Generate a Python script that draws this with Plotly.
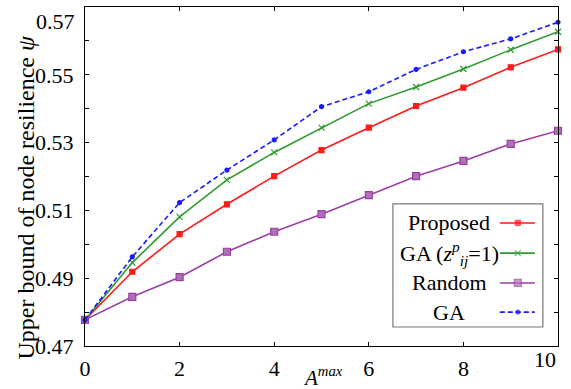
import plotly.graph_objects as go

a_max = [0, 1, 2, 3, 4, 5, 6, 7, 8, 9, 10]
proposed = [0.4777, 0.4919, 0.5030, 0.5118, 0.5201, 0.5278, 0.5344, 0.5408, 0.5462, 0.5522, 0.5575]
ga_z1 = [0.4777, 0.4946, 0.5081, 0.5190, 0.5271, 0.5344, 0.5415, 0.5464, 0.5517, 0.5574, 0.5627]
random_ = [0.4777, 0.4845, 0.4903, 0.4978, 0.5037, 0.5089, 0.5145, 0.5201, 0.5246, 0.5296, 0.5335]
ga = [0.4777, 0.4963, 0.5123, 0.5219, 0.5308, 0.5406, 0.5450, 0.5516, 0.5568, 0.5606, 0.5655]

legend_labels = ["Proposed", "GA (<i>z</i><sup><i>p</i></sup><sub><i>ij</i></sub>=1)", "Random", "GA"]
y_ticks = [0.47, 0.48, 0.49, 0.50, 0.51, 0.52, 0.53, 0.54, 0.55, 0.56, 0.57]
y_ticktext = ["0.47", "", "0.49", "", "0.51", "", "0.53", "", "0.55", "", ""]
x_ticks = [0, 2, 4, 6, 8, 10]
x_ticktext = ["0", "2", "4", "6", "8", ""]

FONT = "Liberation Serif"
RED = "#ff1a1a"
GREEN = "#2e9b2e"
PURPLE = "#9a3fa3"
BLUE = "#1a1aff"

styles = [
    dict(color=RED, dash="solid", symbol="square", size=5, mcolor=RED),
    dict(color=GREEN, dash="solid", symbol="x-thin", size=6, mcolor=GREEN),
    dict(color=PURPLE, dash="solid", symbol="square", size=7, mcolor="#b070b8"),
    dict(color=BLUE, dash="5px,3px", symbol="circle", size=4, mcolor=BLUE),
]
series = [proposed, ga_z1, random_, ga]

fig = go.Figure()
for s, st in zip(series, styles):
    fig.add_trace(go.Scatter(
        x=a_max, y=s, mode="lines+markers",
        line=dict(color=st["color"], width=1.6, dash=st["dash"]),
        marker=dict(symbol=st["symbol"], size=st["size"], color=st["mcolor"],
                    line=dict(color=st["color"], width=1.2)),
        showlegend=False, cliponaxis=False,
    ))

# custom legend (text on the left, sample on the right)
leg_y = [0.363, 0.274, 0.186, 0.100]
for st, ly in zip(styles, leg_y):
    fig.add_trace(go.Scatter(
        x=[0.877, 0.915, 0.951], y=[ly, ly, ly], xaxis="x2", yaxis="y2",
        mode="lines+markers",
        line=dict(color=st["color"], width=1.6, dash=st["dash"]),
        marker=dict(symbol=st["symbol"], size=[0, st["size"], 0], color=st["mcolor"],
                    line=dict(color=st["color"], width=1.2)),
        showlegend=False, hoverinfo="skip",
    ))

annotations = []
for lab, ly in zip(legend_labels, leg_y):
    annotations.append(dict(
        x=0.770, y=ly, xref="paper", yref="paper", text=lab, showarrow=False,
        xanchor="center", yanchor="middle", font=dict(family=FONT, size=22, color="black"),
    ))
# edge tick labels (shifted inward as in the cropped original)
annotations.append(dict(x=1.0, y=-0.041, xref="paper", yref="paper", text=str(x_ticks[-1]),
                        showarrow=False, xanchor="right", yanchor="middle",
                        font=dict(family=FONT, size=22, color="black")))
annotations.append(dict(x=-0.017, y=0.999, xref="paper", yref="paper", text="%.2f" % y_ticks[-1],
                        showarrow=False, xanchor="right", yanchor="top",
                        font=dict(family=FONT, size=22, color="black")))
# axis titles
annotations.append(dict(x=(323 - 85) / 473, y=-0.0885, xref="paper", yref="paper",
                        text="<i>A</i><sup><i>max</i></sup>", showarrow=False,
                        xanchor="center", yanchor="middle",
                        font=dict(family=FONT, size=21, color="black")))
annotations.append(dict(x=-0.1268, y=0.438, xref="paper", yref="paper",
                        text="Upper bound of node resilience <i>ψ</i>", showarrow=False,
                        textangle=-90, xanchor="center", yanchor="middle",
                        font=dict(family=FONT, size=24, color="black")))

fig.add_shape(type="rect", xref="paper", yref="paper", x0=0.651, x1=0.968, y0=0.056, y1=0.419,
              line=dict(color="#777777", width=1.2), fillcolor="white", layer="below")

fig.update_layout(
    width=571, height=389,
    margin=dict(l=85, r=13, t=7, b=43, autoexpand=False),
    paper_bgcolor="white", plot_bgcolor="white",
    font=dict(family=FONT, size=22, color="black"),
    annotations=annotations,
    xaxis=dict(
        range=[0, 10], tickvals=x_ticks, ticktext=x_ticktext, ticks="inside", ticklen=4,
        tickcolor="black", showline=True, linecolor="black", linewidth=1.2, mirror="ticks",
        showgrid=False, zeroline=False, ticklabelstandoff=2, automargin=False,
        tickfont=dict(family=FONT, size=22),
    ),
    yaxis=dict(
        range=[0.47, 0.57], tickvals=y_ticks, ticktext=y_ticktext, ticks="inside", ticklen=4,
        tickcolor="black", showline=True, linecolor="black", linewidth=1.2, mirror="ticks",
        showgrid=False, zeroline=False, ticklabelstandoff=6, automargin=False,
        tickfont=dict(family=FONT, size=22),
    ),
    xaxis2=dict(range=[0, 1], overlaying="x", visible=False, domain=[0, 1], automargin=False),
    yaxis2=dict(range=[0, 1], overlaying="y", visible=False, domain=[0, 1], automargin=False),
)

fig.write_html("out.html", config={"displayModeBar": False},
               post_script="document.body.style.margin='0';document.body.style.overflow='hidden';")
